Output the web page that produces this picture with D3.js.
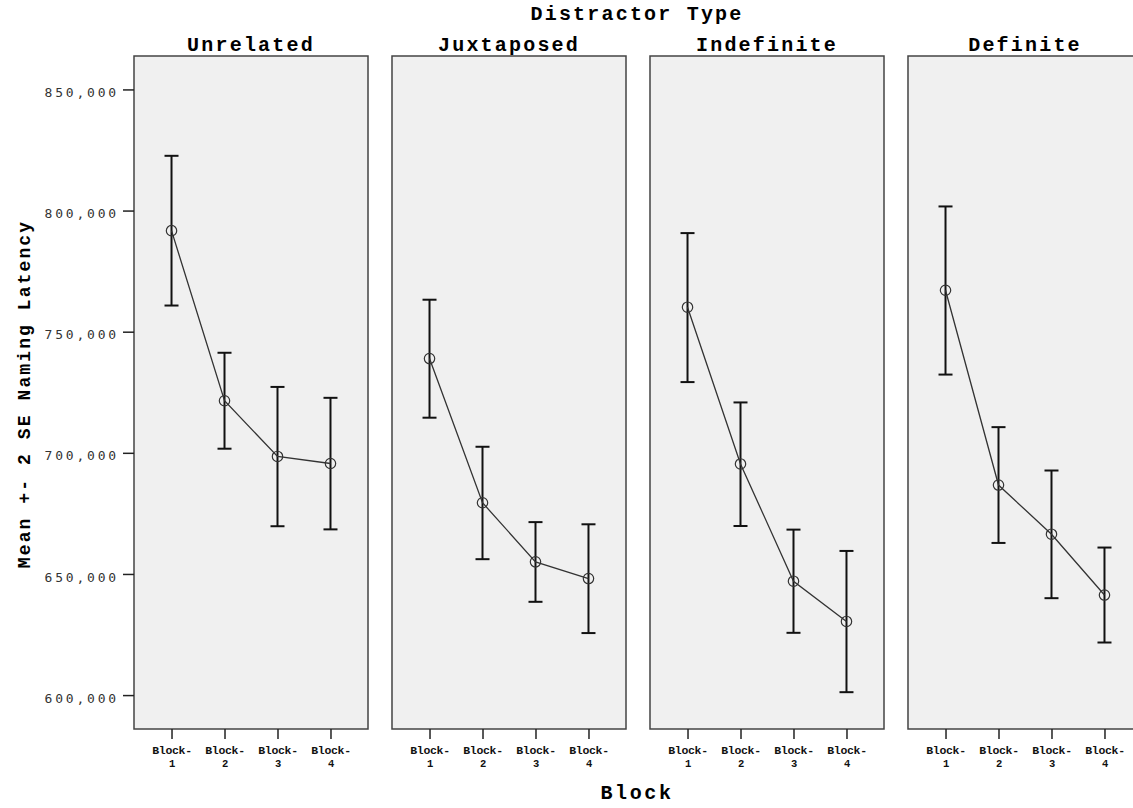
<!DOCTYPE html>
<html>
<head>
<meta charset="utf-8">
<script src="https://cdn.jsdelivr.net/npm/d3@7"></script>
<style>
  body { margin: 0; background: #fff; }
  svg { display: block; }
</style>
</head>
<body>
<svg id="svg" width="1133" height="808"></svg>
<script>
// panels and blocks
var distractorTypes = ['Unrelated', 'Juxtaposed', 'Indefinite', 'Definite'];
var blocks = ['Block-1', 'Block-2', 'Block-3', 'Block-4'];

// mean naming latency per panel (one row per distractor type)
var means = [
    [791.7, 721.5, 698.5, 695.6],
    [738.9, 679.4, 655.0, 648.1],
    [760.1, 695.4, 647.0, 630.4],
    [767.1, 686.7, 666.4, 641.3]
];
// mean + 2 SE
var upper = [
    [822.6, 741.3, 727.2, 722.7],
    [763.2, 702.5, 671.4, 670.5],
    [790.7, 720.8, 668.3, 659.5],
    [801.7, 710.6, 692.7, 660.9]
];
// mean - 2 SE
var lower = [
    [760.8, 701.7, 669.7, 668.4],
    [714.5, 656.1, 638.5, 625.6],
    [729.2, 669.8, 625.7, 601.2],
    [732.3, 662.8, 640.0, 621.7]
];
var yTicks = [600, 650, 700, 750, 800, 850];

var svg = d3.select('#svg');
var plotTop = 56, plotBottom = 729;

var panelX = d3.scaleBand()
    .domain(distractorTypes)
    .range([134, 1142])
    .paddingInner(0.093)
    .paddingOuter(0);

var x = d3.scalePoint()
    .domain(blocks)
    .range([0, panelX.bandwidth()])
    .padding(0.708);

var y = d3.scaleLinear()
    .domain([586, 863.8])
    .range([plotBottom, plotTop]);

// SPSS style number format: 850,000
var fmt = function(d) { return d3.format('.3f')(d).replace('.', ','); };

var titleFont = "'Liberation Mono', 'Courier New', monospace";

// overall header
svg.append('text')
    .attr('x', 637).attr('y', 20)
    .attr('text-anchor', 'middle')
    .style('font-family', titleFont)
    .style('font-weight', 'bold')
    .style('font-size', '20px')
    .style('letter-spacing', '2.2px')
    .text('Distractor Type');

var line = d3.line()
    .x(function(d, i) { return x(blocks[i]); })
    .y(function(d) { return y(d); });

distractorTypes.forEach(function(type, k) {
    var g = svg.append('g')
        .attr('transform', 'translate(' + panelX(type) + ',0)');

    g.append('rect')
        .attr('x', 0).attr('y', plotTop)
        .attr('width', panelX.bandwidth())
        .attr('height', plotBottom - plotTop)
        .attr('fill', '#f0f0f0')
        .attr('stroke', '#444')
        .attr('stroke-width', 1.5);

    g.append('text')
        .attr('x', panelX.bandwidth() / 2).attr('y', 51)
        .attr('text-anchor', 'middle')
        .style('font-family', titleFont)
        .style('font-weight', 'bold')
        .style('font-size', '20px')
        .style('letter-spacing', '2.2px')
        .text(type);

    // x axis ticks with two-line labels
    var xAxis = g.append('g')
        .attr('transform', 'translate(0,' + plotBottom + ')')
        .call(d3.axisBottom(x).tickSize(10).tickFormat(''));
    xAxis.select('.domain').remove();
    xAxis.selectAll('.tick line').attr('stroke', '#222').attr('stroke-width', 1.5);
    xAxis.selectAll('.tick').each(function(d) {
        var parts = d.split('-');
        var t = d3.select(this).append('text')
            .attr('fill', '#111')
            .attr('text-anchor', 'middle')
            .style('font-family', titleFont)
            .style('font-weight', 'bold')
            .style('font-size', '11.5px')
            .style('letter-spacing', '-0.3px');
        t.append('tspan').attr('x', 0).attr('y', 25).text(parts[0] + '-');
        t.append('tspan').attr('x', 0).attr('y', 38).style('font-size', '10.5px').text(parts[1]);
    });

    // error bars
    var bars = g.append('g');
    blocks.forEach(function(b, i) {
        var cx = x(b);
        bars.append('line')
            .attr('x1', cx).attr('x2', cx)
            .attr('y1', y(upper[k][i])).attr('y2', y(lower[k][i]))
            .attr('stroke', '#111').attr('stroke-width', 2);
        [upper[k][i], lower[k][i]].forEach(function(v) {
            bars.append('line')
                .attr('x1', cx - 7).attr('x2', cx + 7)
                .attr('y1', y(v)).attr('y2', y(v))
                .attr('stroke', '#111').attr('stroke-width', 2);
        });
    });

    g.append('path')
        .datum(means[k])
        .attr('d', line)
        .attr('fill', 'none')
        .attr('stroke', '#333')
        .attr('stroke-width', 1.3);

    g.selectAll('circle')
        .data(means[k])
        .enter()
        .append('circle')
        .attr('cx', function(d, i) { return x(blocks[i]); })
        .attr('cy', function(d) { return y(d); })
        .attr('r', 5.2)
        .attr('fill', 'none')
        .attr('stroke', '#333')
        .attr('stroke-width', 1.2);
});

// y axis (only left of first panel)
var yAxis = svg.append('g')
    .attr('transform', 'translate(134,0)')
    .call(d3.axisLeft(y).tickValues(yTicks).tickFormat(fmt).tickSize(11).tickPadding(4));
yAxis.select('.domain').remove();
yAxis.selectAll('.tick line').attr('stroke', '#222').attr('stroke-width', 1.5);
yAxis.selectAll('.tick text')
    .attr('fill', '#333')
    .attr('dy', '0.55em')
    .style('font-family', "'DejaVu Sans Mono', monospace")
    .style('font-size', '13px')
    .style('letter-spacing', '2.8px');

svg.append('text')
    .attr('transform', 'translate(30,394) rotate(-90)')
    .attr('text-anchor', 'middle')
    .style('font-family', titleFont)
    .style('font-weight', 'bold')
    .style('font-size', '18px')
    .style('letter-spacing', '2.1px')
    .text('Mean +- 2 SE Naming Latency');

svg.append('text')
    .attr('x', 637).attr('y', 799)
    .attr('text-anchor', 'middle')
    .style('font-family', titleFont)
    .style('font-weight', 'bold')
    .style('font-size', '20px')
    .style('letter-spacing', '2.6px')
    .text('Block');
</script>
</body>
</html>
